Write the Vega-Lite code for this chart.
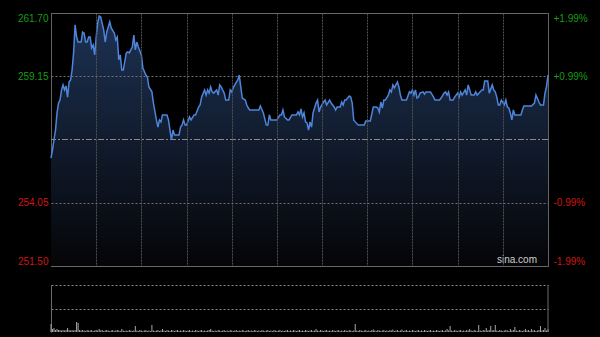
{
  "$schema": "https://vega.github.io/schema/vega-lite/v6.json",
  "background": "#000000",
  "padding": {"left": 16, "top": 12, "right": 14, "bottom": 6},
  "config": {
    "font": "Liberation Sans",
    "axis": {"labelFont": "Liberation Sans", "labelFontSize": 10, "titlePadding": 0}
  },
  "datasets": {
    "price": [
      {"minute":0,"price":255.85},{"minute":1,"price":256.18},{"minute":2,"price":256.6},{"minute":3,"price":256.98},{"minute":4,"price":257.67},{"minute":5,"price":258.07},{"minute":6,"price":258.19},{"minute":7,"price":258.6},{"minute":8,"price":258.8},{"minute":9,"price":258.6},{"minute":10,"price":258.76},{"minute":11,"price":258.31},{"minute":12,"price":258.92},{"minute":13,"price":259.0},{"minute":14,"price":259.4},{"minute":15,"price":260.09},{"minute":16,"price":261.22},{"minute":17,"price":260.73},{"minute":18,"price":260.53},{"minute":20,"price":260.53},{"minute":21,"price":260.93},{"minute":22,"price":260.89},{"minute":23,"price":260.53},{"minute":24,"price":260.53},{"minute":25,"price":260.73},{"minute":26,"price":260.73},{"minute":27,"price":260.29},{"minute":28,"price":260.41},{"minute":29,"price":260.01},{"minute":30,"price":260.73},{"minute":31,"price":261.3},{"minute":32,"price":261.58},{"minute":33,"price":261.54},{"minute":35,"price":261.01},{"minute":36,"price":260.53},{"minute":37,"price":260.93},{"minute":39,"price":261.34},{"minute":40,"price":261.1},{"minute":42,"price":260.89},{"minute":43,"price":260.61},{"minute":44,"price":260.73},{"minute":45,"price":259.81},{"minute":46,"price":260.01},{"minute":47,"price":259.4},{"minute":48,"price":259.4},{"minute":50,"price":260.09},{"minute":51,"price":260.13},{"minute":52,"price":260.09},{"minute":53,"price":260.21},{"minute":54,"price":260.33},{"minute":55,"price":260.81},{"minute":56,"price":260.21},{"minute":57,"price":260.53},{"minute":58,"price":260.33},{"minute":60,"price":260.01},{"minute":61,"price":259.48},{"minute":63,"price":259.2},{"minute":64,"price":259.12},{"minute":65,"price":258.72},{"minute":67,"price":258.52},{"minute":68,"price":258.07},{"minute":70,"price":257.39},{"minute":71,"price":257.1},{"minute":72,"price":257.39},{"minute":73,"price":257.31},{"minute":74,"price":257.59},{"minute":77,"price":257.59},{"minute":78,"price":257.39},{"minute":79,"price":256.98},{"minute":80,"price":256.58},{"minute":81,"price":256.98},{"minute":82,"price":256.78},{"minute":85,"price":256.78},{"minute":86,"price":257.1},{"minute":87,"price":257.18},{"minute":88,"price":257.39},{"minute":89,"price":257.18},{"minute":90,"price":257.18},{"minute":92,"price":257.51},{"minute":93,"price":257.39},{"minute":95,"price":257.59},{"minute":96,"price":257.59},{"minute":98,"price":257.91},{"minute":99,"price":257.99},{"minute":100,"price":258.31},{"minute":102,"price":258.6},{"minute":103,"price":258.39},{"minute":104,"price":258.6},{"minute":105,"price":258.47},{"minute":106,"price":258.72},{"minute":107,"price":258.52},{"minute":108,"price":258.47},{"minute":110,"price":258.6},{"minute":111,"price":258.39},{"minute":112,"price":258.8},{"minute":113,"price":258.72},{"minute":115,"price":258.47},{"minute":116,"price":258.19},{"minute":118,"price":258.19},{"minute":119,"price":258.6},{"minute":120,"price":258.52},{"minute":121,"price":258.68},{"minute":122,"price":258.8},{"minute":124,"price":259.0},{"minute":125,"price":259.2},{"minute":126,"price":258.72},{"minute":127,"price":258.27},{"minute":129,"price":258.19},{"minute":130,"price":257.99},{"minute":131,"price":257.87},{"minute":132,"price":257.79},{"minute":138,"price":257.79},{"minute":139,"price":257.95},{"minute":141,"price":257.67},{"minute":143,"price":257.18},{"minute":144,"price":257.18},{"minute":145,"price":257.59},{"minute":146,"price":257.39},{"minute":150,"price":257.39},{"minute":152,"price":257.59},{"minute":153,"price":257.59},{"minute":154,"price":257.79},{"minute":155,"price":257.51},{"minute":157,"price":257.39},{"minute":158,"price":257.39},{"minute":160,"price":257.59},{"minute":163,"price":257.59},{"minute":164,"price":257.71},{"minute":165,"price":257.59},{"minute":166,"price":257.83},{"minute":167,"price":257.51},{"minute":168,"price":257.67},{"minute":169,"price":257.31},{"minute":170,"price":257.27},{"minute":171,"price":256.98},{"minute":172,"price":257.31},{"minute":173,"price":257.1},{"minute":174,"price":257.67},{"minute":176,"price":258.07},{"minute":177,"price":258.19},{"minute":178,"price":257.71},{"minute":179,"price":257.91},{"minute":181,"price":258.11},{"minute":182,"price":258.19},{"minute":183,"price":257.99},{"minute":185,"price":258.19},{"minute":186,"price":258.07},{"minute":188,"price":257.91},{"minute":189,"price":257.79},{"minute":190,"price":257.91},{"minute":192,"price":257.91},{"minute":193,"price":258.11},{"minute":194,"price":257.99},{"minute":195,"price":258.19},{"minute":196,"price":258.19},{"minute":198,"price":258.35},{"minute":199,"price":258.31},{"minute":200,"price":258.07},{"minute":201,"price":257.39},{"minute":202,"price":257.31},{"minute":204,"price":257.18},{"minute":208,"price":257.18},{"minute":209,"price":257.35},{"minute":212,"price":257.35},{"minute":214,"price":257.91},{"minute":216,"price":257.91},{"minute":217,"price":257.87},{"minute":218,"price":257.71},{"minute":219,"price":258.11},{"minute":220,"price":257.87},{"minute":221,"price":258.19},{"minute":222,"price":258.19},{"minute":224,"price":258.39},{"minute":225,"price":258.6},{"minute":226,"price":258.52},{"minute":227,"price":258.8},{"minute":228,"price":258.68},{"minute":229,"price":258.8},{"minute":230,"price":258.92},{"minute":231,"price":258.72},{"minute":232,"price":258.39},{"minute":233,"price":258.19},{"minute":236,"price":258.19},{"minute":238,"price":258.52},{"minute":239,"price":258.47},{"minute":240,"price":258.6},{"minute":241,"price":258.39},{"minute":242,"price":258.6},{"minute":243,"price":258.27},{"minute":244,"price":258.31},{"minute":245,"price":258.47},{"minute":247,"price":258.52},{"minute":248,"price":258.43},{"minute":249,"price":258.52},{"minute":252,"price":258.52},{"minute":254,"price":258.31},{"minute":255,"price":258.19},{"minute":258,"price":258.19},{"minute":259,"price":258.27},{"minute":261,"price":258.47},{"minute":262,"price":258.52},{"minute":263,"price":258.39},{"minute":264,"price":258.52},{"minute":265,"price":258.19},{"minute":267,"price":258.19},{"minute":268,"price":258.31},{"minute":270,"price":258.47},{"minute":271,"price":258.31},{"minute":272,"price":258.52},{"minute":273,"price":258.39},{"minute":275,"price":258.6},{"minute":276,"price":258.39},{"minute":277,"price":258.8},{"minute":278,"price":258.6},{"minute":279,"price":258.39},{"minute":281,"price":258.39},{"minute":282,"price":258.52},{"minute":283,"price":258.39},{"minute":285,"price":258.52},{"minute":286,"price":258.6},{"minute":287,"price":258.6},{"minute":288,"price":258.96},{"minute":290,"price":258.96},{"minute":291,"price":258.47},{"minute":293,"price":258.8},{"minute":294,"price":258.6},{"minute":295,"price":258.52},{"minute":296,"price":258.31},{"minute":297,"price":257.99},{"minute":298,"price":257.99},{"minute":299,"price":258.19},{"minute":301,"price":257.99},{"minute":302,"price":258.19},{"minute":303,"price":257.91},{"minute":304,"price":257.87},{"minute":305,"price":257.67},{"minute":306,"price":257.39},{"minute":307,"price":257.79},{"minute":308,"price":257.59},{"minute":312,"price":257.59},{"minute":313,"price":257.79},{"minute":314,"price":257.95},{"minute":319,"price":257.95},{"minute":321,"price":258.07},{"minute":322,"price":258.39},{"minute":324,"price":258.11},{"minute":325,"price":257.99},{"minute":327,"price":257.99},{"minute":328,"price":258.47},{"minute":329,"price":258.72},{"minute":330,"price":259.2}
    ],
    "vol": [
      {"minute":0,"volume":8},{"minute":1,"volume":3},{"minute":2,"volume":4},{"minute":3,"volume":2},{"minute":4,"volume":3},{"minute":5,"volume":2},{"minute":6,"volume":2},{"minute":7,"volume":1.5},{"minute":8,"volume":2},{"minute":9,"volume":1.5},
      {"minute":10,"volume":2},{"minute":11,"volume":4},{"minute":12,"volume":2},{"minute":13,"volume":1.5},{"minute":14,"volume":2},{"minute":15,"volume":1.5},{"minute":16,"volume":2},{"minute":17,"volume":10},{"minute":18,"volume":9},{"minute":19,"volume":2},
      {"minute":20,"volume":1.5},{"minute":21,"volume":2},{"minute":22,"volume":1.5},{"minute":23,"volume":1},{"minute":24,"volume":2},{"minute":25,"volume":1.5},{"minute":26,"volume":1.5},{"minute":27,"volume":2},{"minute":28,"volume":1},{"minute":29,"volume":1.5},
      {"minute":30,"volume":2},{"minute":31,"volume":1.5},{"minute":32,"volume":3},{"minute":33,"volume":1.5},{"minute":34,"volume":2},{"minute":35,"volume":1},{"minute":36,"volume":1.5},{"minute":37,"volume":2},{"minute":38,"volume":1.5},{"minute":39,"volume":1},
      {"minute":40,"volume":1.5},{"minute":41,"volume":2},{"minute":42,"volume":1},{"minute":43,"volume":1.5},{"minute":44,"volume":2},{"minute":45,"volume":1.5},{"minute":46,"volume":1},{"minute":47,"volume":3},{"minute":48,"volume":1.5},{"minute":49,"volume":1},
      {"minute":50,"volume":1.5},{"minute":51,"volume":1},{"minute":52,"volume":2},{"minute":53,"volume":1.5},{"minute":54,"volume":1},{"minute":55,"volume":1.5},{"minute":56,"volume":6},{"minute":57,"volume":1.5},{"minute":58,"volume":1},{"minute":59,"volume":2},
      {"minute":60,"volume":1.5},{"minute":61,"volume":1},{"minute":62,"volume":1.5},{"minute":63,"volume":2},{"minute":64,"volume":1},{"minute":65,"volume":1.5},{"minute":66,"volume":1},{"minute":67,"volume":7},{"minute":68,"volume":1.5},{"minute":69,"volume":1},
      {"minute":70,"volume":1.5},{"minute":71,"volume":2},{"minute":72,"volume":1},{"minute":73,"volume":1.5},{"minute":74,"volume":3},{"minute":75,"volume":1.5},{"minute":76,"volume":1},{"minute":77,"volume":2},{"minute":78,"volume":1.5},{"minute":79,"volume":1},
      {"minute":80,"volume":2},{"minute":81,"volume":1.5},{"minute":82,"volume":1},{"minute":83,"volume":1.5},{"minute":84,"volume":2},{"minute":85,"volume":1},{"minute":86,"volume":1.5},{"minute":87,"volume":1},{"minute":88,"volume":2},{"minute":89,"volume":1.5},
      {"minute":90,"volume":1},{"minute":91,"volume":1.5},{"minute":92,"volume":2},{"minute":93,"volume":1},{"minute":94,"volume":1.5},{"minute":95,"volume":1},{"minute":96,"volume":2},{"minute":97,"volume":1.5},{"minute":98,"volume":1},{"minute":99,"volume":1.5},
      {"minute":100,"volume":2},{"minute":101,"volume":1},{"minute":102,"volume":1.5},{"minute":103,"volume":1},{"minute":104,"volume":1.5},{"minute":105,"volume":2},{"minute":106,"volume":3},{"minute":107,"volume":1.5},{"minute":108,"volume":1},{"minute":109,"volume":1.5},
      {"minute":110,"volume":1},{"minute":111,"volume":2},{"minute":112,"volume":1.5},{"minute":113,"volume":1},{"minute":114,"volume":1.5},{"minute":115,"volume":2},{"minute":116,"volume":1},{"minute":117,"volume":1.5},{"minute":118,"volume":1},{"minute":119,"volume":2},
      {"minute":120,"volume":1.5},{"minute":121,"volume":1},{"minute":122,"volume":1.5},{"minute":123,"volume":2},{"minute":124,"volume":1},{"minute":125,"volume":1.5},{"minute":126,"volume":1},{"minute":127,"volume":2},{"minute":128,"volume":1.5},{"minute":129,"volume":1},
      {"minute":130,"volume":1.5},{"minute":131,"volume":2},{"minute":132,"volume":1},{"minute":133,"volume":1.5},{"minute":134,"volume":1},{"minute":135,"volume":2},{"minute":136,"volume":1.5},{"minute":137,"volume":1},{"minute":138,"volume":1.5},{"minute":139,"volume":1},
      {"minute":140,"volume":2},{"minute":141,"volume":1.5},{"minute":142,"volume":1},{"minute":143,"volume":1.5},{"minute":144,"volume":2},{"minute":145,"volume":1},{"minute":146,"volume":1.5},{"minute":147,"volume":1},{"minute":148,"volume":2},{"minute":149,"volume":1.5},
      {"minute":150,"volume":1},{"minute":151,"volume":1.5},{"minute":152,"volume":2},{"minute":153,"volume":1},{"minute":154,"volume":1.5},{"minute":155,"volume":1},{"minute":156,"volume":1.5},{"minute":157,"volume":2},{"minute":158,"volume":1},{"minute":159,"volume":1.5},
      {"minute":160,"volume":1},{"minute":161,"volume":2},{"minute":162,"volume":1.5},{"minute":163,"volume":1},{"minute":164,"volume":1.5},{"minute":165,"volume":2},{"minute":166,"volume":1},{"minute":167,"volume":1.5},{"minute":168,"volume":1},{"minute":169,"volume":2},
      {"minute":170,"volume":1.5},{"minute":171,"volume":1},{"minute":172,"volume":1.5},{"minute":173,"volume":2},{"minute":174,"volume":1},{"minute":175,"volume":1.5},{"minute":176,"volume":3},{"minute":177,"volume":1.5},{"minute":178,"volume":1},{"minute":179,"volume":2},
      {"minute":180,"volume":1.5},{"minute":181,"volume":1},{"minute":182,"volume":1.5},{"minute":183,"volume":2},{"minute":184,"volume":1},{"minute":185,"volume":1.5},{"minute":186,"volume":1},{"minute":187,"volume":2},{"minute":188,"volume":1.5},{"minute":189,"volume":1},
      {"minute":190,"volume":1.5},{"minute":191,"volume":2},{"minute":192,"volume":1},{"minute":193,"volume":1.5},{"minute":194,"volume":1},{"minute":195,"volume":2},{"minute":196,"volume":1.5},{"minute":197,"volume":1},{"minute":198,"volume":2},{"minute":199,"volume":1.5},
      {"minute":200,"volume":1},{"minute":201,"volume":1.5},{"minute":202,"volume":8},{"minute":203,"volume":1.5},{"minute":204,"volume":1},{"minute":205,"volume":2},{"minute":206,"volume":1.5},{"minute":207,"volume":1},{"minute":208,"volume":1.5},{"minute":209,"volume":2},
      {"minute":210,"volume":1},{"minute":211,"volume":1.5},{"minute":212,"volume":1},{"minute":213,"volume":2},{"minute":214,"volume":2.5},{"minute":215,"volume":1.5},{"minute":216,"volume":1},{"minute":217,"volume":2},{"minute":218,"volume":1.5},{"minute":219,"volume":1},
      {"minute":220,"volume":1.5},{"minute":221,"volume":2},{"minute":222,"volume":1},{"minute":223,"volume":1.5},{"minute":224,"volume":1},{"minute":225,"volume":2},{"minute":226,"volume":1.5},{"minute":227,"volume":2.5},{"minute":228,"volume":1},{"minute":229,"volume":1.5},
      {"minute":230,"volume":2},{"minute":231,"volume":1},{"minute":232,"volume":1.5},{"minute":233,"volume":2.5},{"minute":234,"volume":1},{"minute":235,"volume":1.5},{"minute":236,"volume":2},{"minute":237,"volume":1},{"minute":238,"volume":1.5},{"minute":239,"volume":1},
      {"minute":240,"volume":2},{"minute":241,"volume":1.5},{"minute":242,"volume":1},{"minute":243,"volume":1.5},{"minute":244,"volume":2},{"minute":245,"volume":1},{"minute":246,"volume":1.5},{"minute":247,"volume":1},{"minute":248,"volume":2},{"minute":249,"volume":1.5},
      {"minute":250,"volume":1},{"minute":251,"volume":1.5},{"minute":252,"volume":2},{"minute":253,"volume":1},{"minute":254,"volume":1.5},{"minute":255,"volume":1},{"minute":256,"volume":2},{"minute":257,"volume":1.5},{"minute":258,"volume":1},{"minute":259,"volume":1.5},
      {"minute":260,"volume":2},{"minute":261,"volume":1},{"minute":262,"volume":1.5},{"minute":263,"volume":3},{"minute":264,"volume":1.5},{"minute":265,"volume":6},{"minute":266,"volume":1.5},{"minute":267,"volume":1},{"minute":268,"volume":2},{"minute":269,"volume":1.5},
      {"minute":270,"volume":1},{"minute":271,"volume":1.5},{"minute":272,"volume":2},{"minute":273,"volume":1},{"minute":274,"volume":1.5},{"minute":275,"volume":1},{"minute":276,"volume":2},{"minute":277,"volume":1.5},{"minute":278,"volume":3},{"minute":279,"volume":1.5},
      {"minute":280,"volume":1},{"minute":281,"volume":2},{"minute":282,"volume":1.5},{"minute":283,"volume":1},{"minute":284,"volume":7},{"minute":285,"volume":1.5},{"minute":286,"volume":1},{"minute":287,"volume":2},{"minute":288,"volume":1.5},{"minute":289,"volume":4},
      {"minute":290,"volume":1.5},{"minute":291,"volume":2},{"minute":292,"volume":6},{"minute":293,"volume":1.5},{"minute":294,"volume":2},{"minute":295,"volume":7},{"minute":296,"volume":1.5},{"minute":297,"volume":1},{"minute":298,"volume":2},{"minute":299,"volume":1.5},
      {"minute":300,"volume":1},{"minute":301,"volume":1.5},{"minute":302,"volume":2},{"minute":303,"volume":1.5},{"minute":304,"volume":1},{"minute":305,"volume":3},{"minute":306,"volume":1.5},{"minute":307,"volume":2},{"minute":308,"volume":5},{"minute":309,"volume":1.5},
      {"minute":310,"volume":1},{"minute":311,"volume":2},{"minute":312,"volume":1.5},{"minute":313,"volume":1},{"minute":314,"volume":1.5},{"minute":315,"volume":3},{"minute":316,"volume":1.5},{"minute":317,"volume":2},{"minute":318,"volume":1},{"minute":319,"volume":3},
      {"minute":320,"volume":1.5},{"minute":321,"volume":2},{"minute":322,"volume":1},{"minute":323,"volume":1.5},{"minute":324,"volume":2},{"minute":325,"volume":6},{"minute":326,"volume":1.5},{"minute":327,"volume":2},{"minute":328,"volume":4},{"minute":329,"volume":1.5},
      {"minute":330,"volume":3}
    ]
  },
  "spacing": 19,
  "bounds": "flush",
  "vconcat": [
    {
      "width": 497,
      "height": 253,
      "view": {"stroke": "#626262", "strokeWidth": 1},
      "resolve": {"axis": {"y": "independent"}},
      "encoding": {
        "x": {"field": "minute", "type": "quantitative", "scale": {"domain": [0, 330], "nice": false},
          "axis": {"values": [30, 60, 90, 120, 150, 180, 210, 240, 270, 300], "grid": true, "gridColor": "#515151", "gridOpacity": 1, "gridWidth": 1, "gridDash": [2, 1], "labels": false, "ticks": false, "domain": false, "title": null, "zindex": 1}}
      },
      "layer": [
        {
          "data": {"name": "price"},
          "mark": {
            "type": "area",
            "color": {"x1": 0, "y1": 0, "x2": 0, "y2": 1, "gradient": "linear", "stops": [{"offset": 0, "color": "#1d3254"}, {"offset": 1, "color": "#050507"}]}
          },
          "encoding": {
            "y": {"field": "price", "type": "quantitative", "scale": {"domain": [251.5, 261.7], "nice": false, "zero": false},
              "axis": {"orient": "left", "values": [251.5, 254.05, 259.15, 261.7], "format": ".2f", "labelFlush": true, "labelPadding": 3, "ticks": false, "domain": false, "grid": true, "gridColor": "#707070", "gridDash": [2, 2], "title": null, "zindex": 1,
                "labelColor": {"condition": {"test": "datum.value > 256.6", "value": "#159d15"}, "value": "#d01414"}}},
            "y2": {"datum": 251.5}
          }
        },
        {
          "data": {"values": [{"prevClose": 256.6}]},
          "mark": {"type": "rule", "color": "#8a8a8a", "strokeWidth": 1, "strokeDash": [6, 2, 2, 2]},
          "encoding": {"x": null, "y": {"field": "prevClose", "type": "quantitative", "axis": null}}
        },
        {
          "data": {"name": "price"},
          "mark": {"type": "line", "color": "#4d85da", "strokeWidth": 1.5},
          "encoding": {
            "y": {"field": "price", "type": "quantitative",
              "axis": {"orient": "right", "values": [251.5, 254.05, 259.15, 261.7], "labelFlush": true, "labelPadding": 5, "ticks": false, "domain": false, "grid": false, "title": null,
                "labelExpr": "(datum.value > 256.6 ? '+' : '-') + format(abs(datum.value / 256.6 - 1) * 100, '.2f') + '%'",
                "labelColor": {"condition": {"test": "datum.value > 256.6", "value": "#159d15"}, "value": "#d01414"}}}
          }
        },
        {
          "data": {"values": [{"label": "sina.com", "minute": 330, "price": 251.5}]},
          "mark": {"type": "text", "align": "right", "baseline": "bottom", "dx": -11, "dy": -1, "fontSize": 10, "color": "#cfcfcf", "font": "Liberation Sans"},
          "encoding": {"text": {"field": "label"}, "y": {"field": "price", "type": "quantitative", "axis": null}}
        }
      ]
    },
    {
      "width": 497,
      "height": 47,
      "view": {"stroke": null},
      "layer": [
        {
          "data": {"name": "vol"},
          "mark": {"type": "rule", "color": "#a8a8a8", "strokeWidth": 1},
          "encoding": {
            "x": {"field": "minute", "type": "quantitative", "scale": {"domain": [0, 330], "nice": false}, "axis": null},
            "y": {"field": "volume", "type": "quantitative", "scale": {"domain": [0, 47], "nice": false},
              "axis": {"orient": "left", "values": [23.5, 47], "grid": true, "gridColor": "#8a8a8a", "gridDash": [2, 2], "labels": false, "ticks": false, "domain": true, "domainColor": "#6a6a6a", "title": null}},
            "y2": {"datum": 0}
          }
        },
        {
          "data": {"values": [{"minute": 330, "low": 0, "high": 47}]},
          "mark": {"type": "rule", "color": "#6a6a6a", "strokeWidth": 1},
          "encoding": {"x": {"field": "minute", "type": "quantitative"}, "y": {"field": "low", "type": "quantitative"}, "y2": {"field": "high"}}
        }
      ]
    }
  ]
}
